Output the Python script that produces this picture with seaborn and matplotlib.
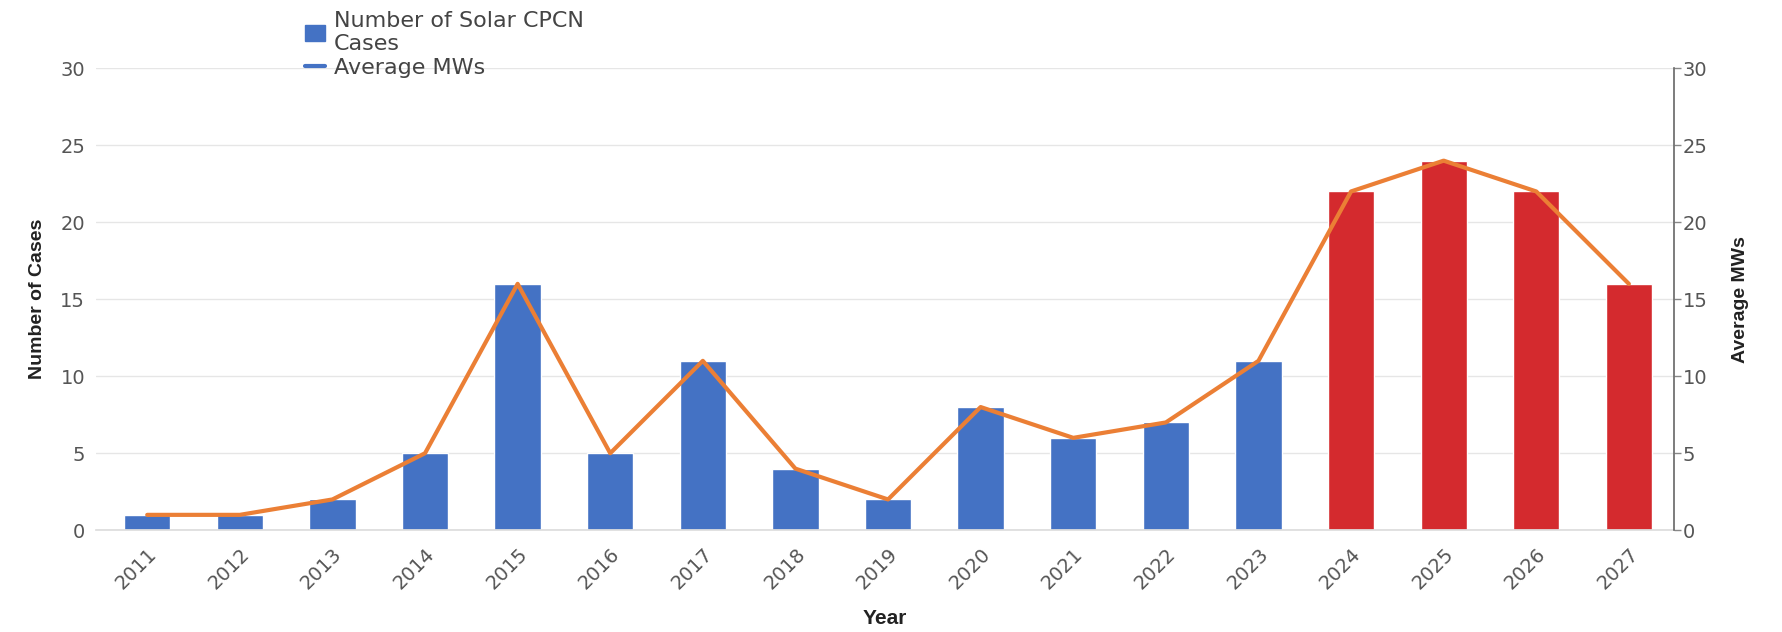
"""Solar CPCN cases per year with average MWs overlay."""

import matplotlib
matplotlib.use("Agg")

import matplotlib.pyplot as plt
from matplotlib.lines import Line2D
from matplotlib.patches import Patch
import numpy as np
import seaborn as sns

# ── Data ────────────────────────────────────────────────────────────────────
years = [str(y) for y in range(2011, 2028)]
cases = [1, 1, 2, 5, 16, 5, 11, 4, 2, 8, 6, 7, 11, 22, 24, 22, 16]
avg_mws = [1, 1, 2, 5, 16, 5, 11, 4, 2, 8, 6, 7, 11, 22, 24, 22, 16]
n_actual = 13  # 2011-2023 drawn blue, 2024+ red

_BLUE = "#4472C4"
_RED = "#D42A2E"
_ORANGE = "#EB7F35"
_TICK = "#555555"
_NARROW = ["Liberation Sans Narrow", "Liberation Sans"]

sns.set_theme(style="white")
plt.rcParams["font.family"] = ["DejaVu Sans"]

fig, ax = plt.subplots(figsize=(17.83, 6.32), dpi=100)
fig.subplots_adjust(left=0.054, right=0.939, top=0.892, bottom=0.161)

bar_colors = [_BLUE] * n_actual + [_RED] * (len(years) - n_actual)
sns.barplot(x=years, y=cases, hue=years, palette=bar_colors, legend=False,
            width=0.5, saturation=1, ax=ax, zorder=2)

ax.set_ylim(0, 30)
ax.set_yticks(range(0, 31, 5))
ax.set_xlim(-0.55, len(years) - 0.51)
ax.yaxis.grid(True, color="#e6e6e6", linewidth=1)
ax.set_axisbelow(True)
for side in ["top", "right", "left"]:
    ax.spines[side].set_visible(False)
ax.spines["bottom"].set_color("#dddddd")
ax.tick_params(axis="y", length=0, labelsize=14, labelcolor=_TICK, pad=8)
ax.tick_params(axis="x", length=0, labelsize=14, labelcolor=_TICK, pad=10)
plt.setp(ax.get_xticklabels(), rotation=45, ha="right", rotation_mode="anchor")
ax.set_ylabel("Number of Cases", fontsize=14, fontweight="bold",
              family=_NARROW, color="#222", labelpad=10)
ax.set_xlabel("Year", fontsize=15, fontweight="bold", family=_NARROW,
              color="#222", labelpad=12)

# ── Right axis: average MWs line ───────────────────────────────────────────
ax2 = ax.twinx()
sns.lineplot(x=np.arange(len(years)), y=avg_mws, color=_ORANGE, linewidth=3,
             ax=ax2, zorder=3)
ax2.set_ylim(0, 30)
ax2.set_yticks(range(0, 31, 5))
for side in ["top", "left", "bottom"]:
    ax2.spines[side].set_visible(False)
ax2.spines["right"].set_color("#666666")
ax2.spines["right"].set_linewidth(1.2)
ax2.tick_params(axis="y", direction="out", length=5, width=1, color="#888",
                labelsize=14, labelcolor=_TICK, pad=1, right=True)
ax2.set_ylabel("Average MWs", fontsize=14, fontweight="bold",
               family=_NARROW, color="#222", labelpad=18)

handles = [
    Patch(facecolor=_BLUE, edgecolor=_BLUE),
    Line2D([0], [0], color=_BLUE, linewidth=3),
]
fig.legend(handles, ["Number of Solar CPCN\nCases", "Average MWs"],
           loc="upper left", bbox_to_anchor=(0.165, 1.0), frameon=False,
           fontsize=16, handlelength=0.9, handletextpad=0.4, labelspacing=0.15,
           borderaxespad=0.1, labelcolor="#444")

fig.savefig("out.png", dpi=100)
plt.close(fig)
